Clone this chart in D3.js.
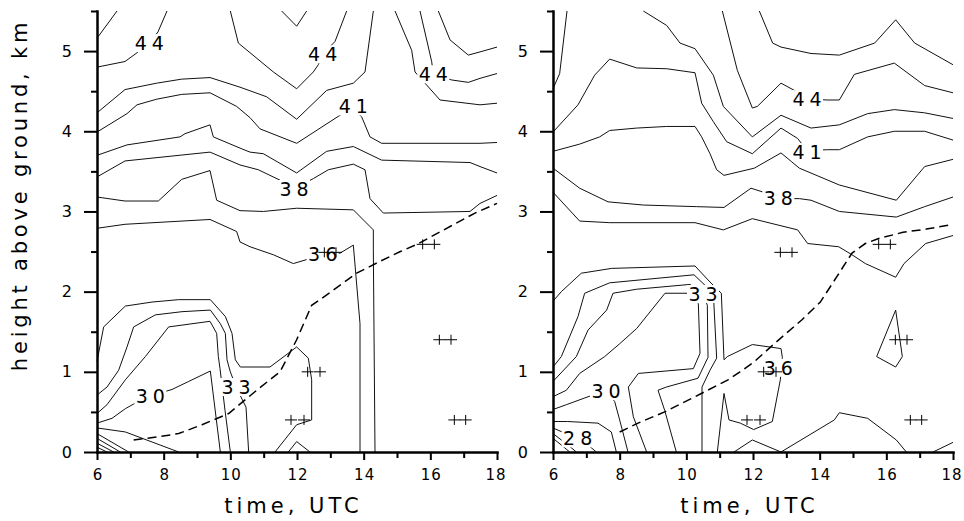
<!DOCTYPE html>
<html>
<head>
<meta charset="utf-8">
<script src="https://cdn.jsdelivr.net/npm/d3@7/dist/d3.min.js"></script>
<style>
  body { margin: 0; background: #fff; }
  svg text { font-family: "DejaVu Sans", Verdana, sans-serif; fill: #000; }
</style>
</head>
<body>
<div id="container"></div>
<script>
/* DATA  (time in h UTC, height in km) */
const xTickValues = [6, 8, 10, 12, 14, 16, 18]
const xMinorValues = [7, 9, 11, 13, 15, 17]
const yTickValues = [0, 1, 2, 3, 4, 5]
const yMinorValues = [0.5, 1.5, 2.5, 3.5, 4.5, 5.5]

// left panel isolines
const leftContours = [
  [[6,5.16],[6.6,5.5]],
  [[6,4.80],[6.84,4.87],[7.17,4.97],[7.57,5.10],[7.83,5.24],[8.1,5.5]],
  [[10.0,5.5],[10.24,5.10],[11.29,4.74],[11.99,4.53],[12.49,4.74],[12.64,4.83],[12.77,4.96],[13.14,5.12],[13.49,5.5]],
  [[11.54,5.5],[11.99,5.31],[12.29,5.5]],
  [[6,4.23],[6.84,4.52],[7.79,4.60],[8.54,4.65],[9.39,4.67],[10.29,4.55],[11.09,4.43],[11.99,4.15],[12.89,4.51],[13.69,4.60],[14.04,4.74],[14.29,5.5]],
  [[6,3.99],[6.9,4.22],[7.2,4.33],[7.79,4.40],[8.54,4.46],[9.39,4.48],[10.19,4.31],[10.59,4.17],[10.89,4.03],[11.99,3.85],[13.29,4.20],[13.69,4.28],[13.94,4.18],[14.19,3.93],[14.54,3.85],[17.49,3.85],[18,3.86]],
  [[6,3.70],[6.9,3.83],[8.49,3.93],[8.64,3.97],[9.39,4.08],[9.49,3.93],[10.29,3.79],[10.59,3.74],[10.99,3.72],[11.99,3.48],[12.89,3.75],[13.69,3.81],[14.54,3.64],[17.19,3.61],[17.49,3.56],[18,3.48]],
  [[6,3.43],[6.84,3.63],[9.39,3.74],[10.29,3.58],[10.84,3.52],[11.49,3.39],[11.91,3.28],[12.49,3.41],[12.94,3.52],[13.69,3.59],[14.04,3.52],[14.19,3.16],[14.59,2.98],[17.19,3.00],[17.49,3.10],[18,3.2]],
  [[6,3.18],[6.84,3.13],[7.84,3.13],[8.54,3.40],[9.39,3.51],[9.59,3.14],[10.29,3.01],[10.99,3.00],[11.99,3.04],[13.69,3.02],[14.29,2.77],[14.29,2.52],[14.34,0]],
  [[6,2.79],[6.84,2.84],[9.39,2.90],[10.19,2.75],[10.29,2.62],[10.59,2.56],[11.29,2.46],[11.89,2.35],[12.29,2.40],[12.77,2.47],[13.29,2.48],[13.69,2.58],[13.89,1.60],[13.89,0]],
  [[14.94,5.5],[15.44,5.01],[15.54,4.74],[16.29,4.39],[17.49,4.33],[18,4.35]],
  [[15.69,5.5],[16.04,4.87],[16.09,4.71],[16.64,4.64],[17.14,4.61],[17.49,4.66],[18,4.72]],
  [[16.24,5.5],[16.59,5.14],[17.14,4.95],[17.49,4.99],[18,5.05]],
  [[6,1.13],[6.2,1.56],[6.85,1.82],[7.65,1.87],[8.45,1.90],[9.4,1.90],[9.85,1.69],[10.05,1.48],[10.15,1.15],[10.3,1.06],[11.19,1.06],[11.99,1.31],[12.34,1.17],[12.44,0.90],[12.44,0.40],[11.99,0.34],[11.34,0]],
  [[6,0.71],[6.3,0.81],[6.65,1.02],[6.9,1.31],[7.1,1.56],[7.75,1.71],[8.55,1.75],[9.4,1.77],[9.7,1.60],[9.85,1.48],[9.9,1.15],[10.0,1.0],[10.17,0.81],[10.47,0.56],[10.55,0]],
  [[6,0.48],[6.3,0.59],[6.85,0.90],[7.45,1.19],[8.15,1.56],[9.39,1.63],[9.59,1.48],[9.64,1.19],[9.69,1.04],[9.84,0.52],[10.0,0]],
  [[6,0.36],[6.45,0.42],[6.85,0.54],[7.15,0.61],[7.6,0.70],[8.25,0.78],[8.75,0.88],[9.4,1.01],[9.7,0]],
  [[6,0.30],[6.85,0.25],[8.45,0]],
  [[6,0.23],[6.95,0]],
  [[6,0.17],[6.7,0]],
  [[6,0.11],[6.5,0]],
  [[6,0.06],[6.3,0]],
  [[11.74,0],[11.99,0.13],[12.39,0]]
]
const leftLabels = [
  {v: "44", t: 7.57, h: 5.10},
  {v: "44", t: 12.77, h: 4.96},
  {v: "44", t: 16.09, h: 4.71},
  {v: "41", t: 13.69, h: 4.31},
  {v: "38", t: 11.91, h: 3.28},
  {v: "36", t: 12.77, h: 2.47},
  {v: "33", t: 10.17, h: 0.81},
  {v: "30", t: 7.6, h: 0.70}
]
const leftDashed = [[7.1,0.15],[7.85,0.19],[8.45,0.23],[9.15,0.34],[9.95,0.48],[10.85,0.79],[11.49,1.0],[11.99,1.40],[12.44,1.83],[12.69,1.90],[13.79,2.23],[14.5,2.38],[15.1,2.5],[15.6,2.59],[17.34,2.98],[18,3.1]]

// right panel isolines
const rightContours = [
  [[6,4.53],[6.2,4.72],[6.42,5.5]],
  [[8.71,5.5],[9.41,5.32],[9.81,5.10],[10.26,5.03],[10.81,4.70],[11.11,4.31],[11.98,3.93],[12.84,4.20],[13.74,4.04],[14.59,4.08],[15.44,4.22],[16.24,4.27],[17.15,4.23],[18,4.16]],
  [[11.08,5.5],[11.53,4.76],[11.98,4.29],[12.13,4.31],[12.84,4.60],[13.24,4.51],[13.62,4.40],[14.24,4.39],[14.59,4.39],[15.04,4.71],[16.24,4.85],[17.15,4.57],[18,4.48]],
  [[12.19,5.5],[12.59,5.10],[12.84,5.05],[13.74,4.97],[14.59,4.95],[15.65,5.10],[16.28,5.39],[16.85,5.10],[18,4.83]],
  [[6,3.99],[6.75,4.33],[7.25,4.70],[7.7,4.90],[8.51,4.79],[9.41,4.78],[10.26,4.73],[10.46,4.35],[10.81,4.12],[11.21,3.87],[11.98,3.72],[12.84,4.04],[13.34,3.91],[13.62,3.76],[14.24,3.77],[14.59,3.77],[15.44,3.93],[16.24,4.0],[17.15,4.0],[18,3.89]],
  [[6,3.75],[6.8,3.84],[7.4,3.93],[7.7,4.01],[8.51,4.04],[9.41,4.06],[10.26,4.06],[10.46,3.93],[10.71,3.72],[10.91,3.52],[11.13,3.45],[12.04,3.54],[12.84,3.73],[13.39,3.54],[14.59,3.33],[16.3,3.14],[17.15,3.56],[18,3.65]],
  [[6,3.54],[6.8,3.29],[7.65,3.12],[8.71,3.08],[10.31,3.06],[11.13,3.05],[11.94,3.29],[12.39,3.23],[12.76,3.16],[13.39,3.16],[13.74,3.14],[14.59,3.0],[16.3,2.93],[17.15,3.06],[18,3.18]],
  [[6,3.24],[6.8,2.88],[7.7,2.86],[10.26,2.86],[11.11,2.77],[11.98,2.91],[13.34,2.77],[13.64,2.60],[14.57,2.56],[14.97,2.46],[15.37,2.35],[16.28,2.18],[16.53,2.35],[17.18,2.6],[18,2.7]],
  [[6,1.88],[6.25,2.0],[6.85,2.23],[7.76,2.29],[10.26,2.32],[10.71,2.12],[11.05,1.98],[11.13,1.15],[11.23,1.19],[11.98,1.34],[12.84,1.29],[12.88,1.18],[12.82,0.90],[12.58,0.38],[12.02,0.28],[11.62,0.36],[11.28,0.40],[11.13,0.73],[10.93,0]],
  [[6,1.06],[6.25,1.19],[6.75,1.69],[6.95,1.98],[7.7,2.11],[10.23,2.21],[10.81,1.98],[10.91,1.17],[10.71,1.02],[10.47,0.81],[10.47,0]],
  [[6,0.88],[6.7,1.19],[7.05,1.52],[7.61,1.77],[7.8,1.98],[8.51,2.03],[10.11,2.09],[10.5,1.97],[10.63,1.83],[10.65,1.18],[10.35,0.92],[9.40,0.81],[9.15,0.77],[9.35,0.52],[9.70,0]],
  [[6,0.69],[6.4,0.77],[6.8,0.98],[7.55,1.19],[8.0,1.35],[8.51,1.54],[9.36,1.98],[10.06,1.98],[10.36,1.85],[10.41,1.23],[10.21,1.04],[8.56,0.98],[8.26,0.81],[8.41,0.44],[8.81,0]],
  [[6,0.53],[6.4,0.59],[7.19,0.71],[7.59,0.76],[7.85,0.63],[8.0,0.40],[8.25,0]],
  [[6,0.38],[6.44,0.38],[7.35,0.36],[7.75,0.25],[7.9,0]],
  [[6,0.30],[6.6,0.19],[7.1,0.07],[7.3,0]],
  [[6,0.23],[6.5,0.07],[6.7,0]],
  [[6,0.17],[6.3,0.07],[6.5,0]],
  [[11.43,0],[11.98,0.15],[12.84,0]],
  [[12.84,0],[14.44,0.40],[14.59,0.49],[15.44,0.42],[16.3,0.15],[16.6,0]],
  [[17.4,0],[18,0.12]],
  [[16.28,1.77],[16.48,1.19],[16.28,1.06],[15.71,1.19],[16.28,1.77]]
]
const rightLabels = [
  {v: "44", t: 13.62, h: 4.40},
  {v: "41", t: 13.62, h: 3.74},
  {v: "38", t: 12.76, h: 3.16},
  {v: "33", t: 10.5, h: 1.97},
  {v: "36", t: 12.76, h: 1.05},
  {v: "30", t: 7.59, h: 0.76},
  {v: "28", t: 6.74, h: 0.17}
]
const rightDashed = [[8.0,0.25],[8.55,0.36],[9.35,0.50],[10.45,0.73],[11.25,0.90],[11.61,1.0],[12.02,1.12],[12.72,1.38],[13.47,1.65],[14.02,1.87],[14.52,2.19],[14.97,2.48],[15.37,2.60],[15.75,2.66],[16.5,2.74],[17.2,2.78],[18,2.84]]

// observation marks, drawn in both panels
const obsPoints = [[11.82,0.4],[12.21,0.4],[12.32,1.0],[12.69,1.0],[12.82,2.49],[13.17,2.49],[15.77,2.59],[16.12,2.59],[16.27,1.4],[16.62,1.4],[16.72,0.4],[17.06,0.4]]

/* LAYOUT */
const width = 964, height = 521
const marginTop = 11
const plotW = 400, plotH = 441

const svg = d3.select("#container")
  .append("svg")
  .attr("width", width)
  .attr("height", height)

const xScale = d3.scaleLinear().domain([6, 18]).range([0, plotW])
const yScale = d3.scaleLinear().domain([0, 5.5]).range([plotH, 0])
const line = d3.line().x(d => xScale(d[0])).y(d => yScale(d[1]))

const panels = [
  {x0: 97, contours: leftContours, labels: leftLabels, dashed: leftDashed},
  {x0: 553, contours: rightContours, labels: rightLabels, dashed: rightDashed}
]

panels.forEach(p => {
  const g = svg.append("g").attr("transform", `translate(${p.x0},${marginTop})`)

  // isolines
  g.selectAll("path.iso")
    .data(p.contours)
    .join("path")
    .attr("class", "iso")
    .attr("d", line)
    .attr("fill", "none")
    .attr("stroke", "#111")
    .attr("stroke-width", 1)

  // isoline labels, with a white gap behind them
  const lab = g.selectAll("g.lab")
    .data(p.labels)
    .join("g")
    .attr("class", "lab")
    .attr("transform", d => `translate(${xScale(d.t)},${yScale(d.h)})`)
  lab.append("rect")
    .attr("x", -16).attr("y", -9)
    .attr("width", 32).attr("height", 18)
    .attr("fill", "#fff")
  lab.append("text")
    .attr("text-anchor", "middle")
    .attr("dx", 2.5)
    .attr("dy", "0.36em")
    .style("font-size", "19px")
    .style("letter-spacing", "5px")
    .text(d => d.v)

  // dashed line
  g.append("path")
    .datum(p.dashed)
    .attr("d", line)
    .attr("fill", "none")
    .attr("stroke", "#000")
    .attr("stroke-width", 1.5)
    .attr("stroke-dasharray", "9,5")

  // ++ marks
  g.selectAll("path.obs")
    .data(obsPoints)
    .join("path")
    .attr("class", "obs")
    .attr("transform", d => `translate(${xScale(d[0])},${yScale(d[1])})`)
    .attr("d", "M-6,0H6M0,-5V5")
    .attr("stroke", "#000")
    .attr("stroke-width", 1)

  // AXES
  g.append("g")
    .call(d3.axisLeft(yScale).tickValues(yTickValues).tickSize(13).tickSizeOuter(0).tickPadding(12).tickFormat(d3.format("d")))
  g.append("g")
    .call(d3.axisLeft(yScale).tickValues(yMinorValues).tickSize(6).tickFormat(""))
    .call(a => a.select(".domain").remove())

  const xAx = g.append("g")
    .attr("transform", `translate(0,${plotH})`)
    .call(d3.axisBottom(xScale).tickValues(xTickValues).tickSize(8).tickSizeOuter(0).tickPadding(9).tickFormat(d3.format("d")))
  g.append("g")
    .attr("transform", `translate(0,${plotH})`)
    .call(d3.axisBottom(xScale).tickValues(xMinorValues).tickSize(6).tickFormat(""))
    .call(a => a.select(".domain").remove())

  g.selectAll(".domain")
    .attr("stroke", "#000")
    .attr("stroke-width", 2.5)
    .attr("stroke-linecap", "square")
  g.selectAll(".tick line")
    .attr("stroke", "#000")
    .attr("stroke-width", 2)
  g.selectAll(".tick text")
    .style("font-size", "16px")
  xAx.selectAll(".tick text")
    .style("font-size", "15px")
    .style("letter-spacing", "1px")
    .attr("dx", d => d === 18 ? -1.5 : 0.5)

  svg.append("text")
    .attr("x", p.x0 + 196.5)
    .attr("y", 513)
    .attr("text-anchor", "middle")
    .style("font-size", "21px")
    .style("letter-spacing", "4px")
    .text("time, UTC")
})

svg.append("text")
  .attr("transform", "translate(27,195) rotate(-90)")
  .attr("text-anchor", "middle")
  .style("font-size", "21px")
  .style("letter-spacing", "3.8px")
  .text("height above ground, km")
</script>
</body>
</html>
